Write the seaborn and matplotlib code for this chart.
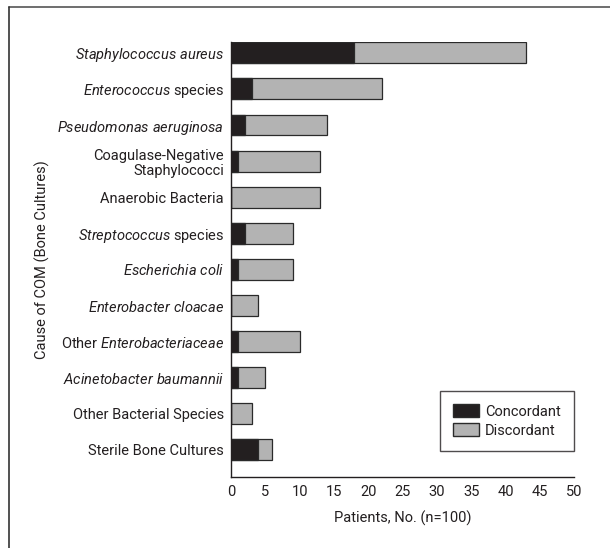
import matplotlib
matplotlib.use("Agg")
import matplotlib.pyplot as plt
import seaborn as sns
import pandas as pd
from matplotlib.patches import Patch
from matplotlib.lines import Line2D

# --- DATA ---
causes = [
    r"$\mathit{Staphylococcus\ aureus}$",
    r"$\mathit{Enterococcus}$ species",
    r"$\mathit{Pseudomonas\ aeruginosa}$",
    "Coagulase-Negative\nStaphylococci",
    "Anaerobic Bacteria",
    r"$\mathit{Streptococcus}$ species",
    r"$\mathit{Escherichia\ coli}$",
    r"$\mathit{Enterobacter\ cloacae}$",
    r"Other $\mathit{Enterobacteriaceae}$",
    r"$\mathit{Acinetobacter\ baumannii}$",
    "Other Bacterial Species",
    "Sterile Bone Cultures",
]
concordant = [18, 3, 2, 1, 0, 2, 1, 0, 1, 1, 0, 4]
discordant = [25, 19, 12, 12, 13, 7, 8, 4, 9, 4, 3, 2]
x_ticks = [0, 5, 10, 15, 20, 25, 30, 35, 40, 45, 50]

DARK = "#231f20"
GRAY = "#b3b3b3"
EDGE = "#2a2a2a"
FS = 10.5

df = pd.DataFrame({"cause": causes, "concordant": concordant, "discordant": discordant})
df["total"] = df["concordant"] + df["discordant"]

sns.set_style("white")
plt.rcParams["font.family"] = ["Roboto", "DejaVu Sans"]
plt.rcParams["font.size"] = FS
plt.rcParams["mathtext.fontset"] = "custom"
plt.rcParams["mathtext.it"] = "Roboto:italic"
plt.rcParams["mathtext.rm"] = "Roboto"

fig = plt.figure(figsize=(6.10, 5.48), dpi=100)
ax = fig.add_axes([0.3787, 0.1296, 0.941 - 0.3787, 0.9234 - 0.1296])

# stacked bars: total (gray) then concordant (dark) on top
sns.barplot(data=df, x="total", y="cause", color=GRAY, edgecolor=EDGE,
            linewidth=0.9, width=0.58, saturation=1, ax=ax)
sns.barplot(data=df, x="concordant", y="cause", color=DARK, edgecolor=EDGE,
            linewidth=0.9, width=0.58, saturation=1, ax=ax)

ax.set_xlim(0, 50)
ax.set_ylim(len(causes) - 0.25, -0.3)
ax.set_xticks(x_ticks)
ax.set_xlabel("Patients, No. (n=100)", fontsize=FS, color=DARK, labelpad=8)
ax.set_ylabel("Cause of COM (Bone Cultures)", fontsize=FS, color=DARK)
ax.yaxis.set_label_coords((50 - 231) / 343, 0.5)

for s in ["top", "right"]:
    ax.spines[s].set_visible(False)
for s in ["left", "bottom"]:
    ax.spines[s].set_color(DARK)
    ax.spines[s].set_linewidth(1.0)

ax.tick_params(axis="both", direction="out", length=4, width=0.8, color=DARK,
               labelcolor=DARK, labelsize=FS, pad=2)
ax.tick_params(axis="y", length=3)
for lbl in ax.get_yticklabels():
    lbl.set_horizontalalignment("right")
    lbl.set_multialignment("right")
    lbl.set_linespacing(1.1)

handles = [Patch(facecolor=DARK, edgecolor=EDGE, label="Concordant"),
           Patch(facecolor=GRAY, edgecolor=EDGE, label="Discordant")]
leg = ax.legend(handles=handles, loc="lower right", bbox_to_anchor=(1.0, 0.06),
                frameon=True, fancybox=False, fontsize=FS, handlelength=1.8,
                handleheight=1.0, borderpad=0.9, labelspacing=0.3,
                handletextpad=0.4, borderaxespad=0)
leg.get_frame().set_edgecolor(DARK)
leg.get_frame().set_linewidth(1.0)
for t in leg.get_texts():
    t.set_color(DARK)

# frame lines of the figure panel (top and left)
fig.add_artist(Line2D([9 / 610, 1.0], [1 - 7 / 548, 1 - 7 / 548], color="#555555",
                      lw=1.2, transform=fig.transFigure))
fig.add_artist(Line2D([9 / 610, 9 / 610], [0, 1 - 7 / 548], color="#333333",
                      lw=1.2, transform=fig.transFigure))

fig.savefig("out.png", dpi=100)
